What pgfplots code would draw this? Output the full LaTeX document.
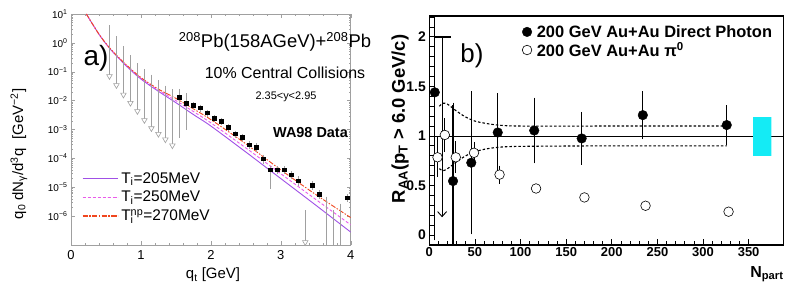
\documentclass[border=0pt]{standalone}
\usepackage{pgfplots}
\usepackage{pgfplotstable}
\pgfplotsset{compat=1.18}
\usepackage{fontspec}
\setmainfont{Liberation Sans}
\usetikzlibrary{arrows.meta}
\definecolor{tviolet}{RGB}{160,80,230}
\definecolor{tmag}{RGB}{235,90,235}
\definecolor{tred}{RGB}{240,70,30}
\definecolor{cbox}{RGB}{20,235,245}
\definecolor{egray}{RGB}{160,160,160}

\pgfplotstableread{
q y
1.55 1.3e-2
1.65 8.3e-3
1.75 6.9e-3
1.85 5.6e-3
1.95 3.8e-3
2.05 2.5e-3
2.15 1.95e-3
2.25 1.2e-3
2.35 7.1e-4
2.45 5.4e-4
2.55 3.0e-4
2.65 2.45e-4
2.75 9.8e-5
2.85 4.0e-5
2.95 4.0e-5
3.05 4.0e-5
3.15 2.7e-5
3.25 1.7e-5
3.45 1.2e-5
3.55 5.7e-6
3.95 4.4e-6
}\wasq

\pgfplotstableread{
q y
0.55 0.07
0.65 0.034
0.75 0.016
0.85 0.0083
0.95 0.0043
1.05 0.0021
1.15 0.0011
1.25 0.0007
1.35 0.00045
1.45 0.00028
3.35 1.25e-7
}\walim

\pgfplotstableread{
n y e
6 1.44 1.47
26 0.545 0.77
46 0.73 0.70
75 1.035 0.375
115 1.055 0.31
167 0.975 0.245
234 1.21 0.22
326 1.11 0.177
}\gam

\pgfplotstableread{
n y e
9 0.785 0.18
17 1.01 0.15
29 0.785 0.14
49 0.83 0.09
77 0.61 0.07
117 0.47 0
170 0.38 0
237 0.296 0
328 0.236 0
}\pizero

\begin{document}
\begin{tikzpicture}[x=1bp,y=1bp]
\useasboundingbox (0,0) rectangle (789,289);
% ---------------- left panel ----------------
\begin{axis}[at={(71bp,44bp)}, anchor=south west, scale only axis,
  width=279.7bp, height=231bp,
  xmin=0, xmax=4, ymode=log, ymin=1e-7, ymax=1e1,
  axis line style={egray, line width=0.5bp},
  tick style={egray, line width=0.4bp},
  tick align=inside, major tick length=4bp, minor tick length=2bp,
  xtick={0,1,2,3,4}, minor x tick num=4,
  ytick={1e-6,1e-5,1e-4,1e-3,1e-2,1e-1,1,10},
  yticklabels={10\textsuperscript{−6},10\textsuperscript{−5},10\textsuperscript{−4},10\textsuperscript{−3},10\textsuperscript{−2},10\textsuperscript{−1},10\textsuperscript{0},10\textsuperscript{1}},
  xticklabel style={font=\fontsize{13}{13}\selectfont, yshift=-2bp},
  yticklabel style={font=\fontsize{10}{10}\selectfont},
  /pgf/number format/assume math mode=true,
  legend style={at={(0.039,0.318)}, anchor=north west, draw=none, fill=none,
    font=\fontsize{15.5}{15.5}\selectfont, row sep=5.5bp, inner sep=0pt,
    nodes={inner ysep=0.5bp, inner xsep=3bp}},
  legend cell align=left,
  legend image code/.code={\draw[mark repeat=2,mark phase=2,#1,line width=1.2bp] plot coordinates {(0bp,0bp)(17.5bp,0bp)(35bp,0bp)};},
  clip=true]
\addplot[color=tviolet, line width=0.9bp, smooth] coordinates {
(0.22,10)(0.3,4.8)(0.4,2.0)(0.5,0.93)(0.6,0.48)(0.8,0.151)(1.0,0.056)(1.25,0.021)(1.5,0.0085)(1.75,0.0033)(2.0,0.00132)(2.5,1.66e-4)(3.0,2.0e-5)(3.5,2.4e-6)(4.0,2.8e-7)};
\addlegendentry{T\textsubscript{i}=205MeV}
\addplot[color=tmag, line width=0.9bp, dash pattern=on 3bp off 2bp, smooth] coordinates {
(0.22,10)(0.3,4.8)(0.4,2.0)(0.5,0.94)(0.6,0.49)(0.8,0.16)(1.0,0.060)(1.25,0.023)(1.5,0.010)(1.75,0.0042)(2.0,0.0017)(2.5,2.3e-4)(3.0,2.95e-5)(3.5,3.8e-6)(4.0,5.0e-7)};
\addlegendentry{T\textsubscript{i}=250MeV}
\addplot[color=tred, line width=0.9bp, dash pattern=on 5bp off 1.5bp on 1.5bp off 1.5bp, smooth] coordinates {
(0.22,10)(0.3,4.8)(0.4,2.0)(0.5,0.95)(0.6,0.50)(0.8,0.166)(1.0,0.063)(1.25,0.025)(1.5,0.012)(1.75,0.0052)(2.0,0.0022)(2.5,3.2e-4)(3.0,4.0e-5)(3.5,5.6e-6)(4.0,8.9e-7)};
\addlegendentry{T\rlap{\textsubscript{i}}\textsuperscript{np}=270MeV}
% gray error / upper-limit lines
\addplot[egray, line width=0.6bp, unbounded coords=jump, forget plot] coordinates {
(0.55,4.0)(0.55,0.07)(0.55,nan)
(0.65,1.7)(0.65,0.034)(0.65,nan)
(0.75,0.75)(0.75,0.016)(0.75,nan)
(0.85,0.38)(0.85,0.0083)(0.85,nan)
(0.95,0.2)(0.95,0.0043)(0.95,nan)
(1.05,0.12)(1.05,0.0021)(1.05,nan)
(1.15,0.08)(1.15,0.0011)(1.15,nan)
(1.25,0.05)(1.25,0.0007)(1.25,nan)
(1.35,0.033)(1.35,0.00045)(1.35,nan)
(1.45,0.025)(1.45,0.00028)(1.45,nan)
(1.55,0.025)(1.55,5e-4)(1.55,nan)
(1.65,0.018)(1.65,1.0e-3)(1.65,nan)
(1.75,9.0e-3)(1.75,5.0e-3)(1.75,nan)
(1.85,7.2e-3)(1.85,4.0e-3)(1.85,nan)
(1.95,4.9e-3)(1.95,2.8e-3)(1.95,nan)
(2.05,3.2e-3)(2.05,1.85e-3)(2.05,nan)
(2.15,2.5e-3)(2.15,1.45e-3)(2.15,nan)
(2.25,1.55e-3)(2.25,8.8e-4)(2.25,nan)
(2.35,9.2e-4)(2.35,5.2e-4)(2.35,nan)
(2.45,7.0e-4)(2.45,3.9e-4)(2.45,nan)
(2.55,4.0e-4)(2.55,2.1e-4)(2.55,nan)
(2.65,3.3e-4)(2.65,1.7e-4)(2.65,nan)
(2.75,1.35e-4)(2.75,6.5e-5)(2.75,nan)
(2.85,5.5e-5)(2.85,9e-6)(2.85,nan)
(2.95,5.3e-5)(2.95,2.9e-5)(2.95,nan)
(3.05,5.3e-5)(3.05,2.9e-5)(3.05,nan)
(3.15,3.7e-5)(3.15,1.9e-5)(3.15,nan)
(3.25,2.4e-5)(3.25,1.1e-5)(3.25,nan)
(3.35,1.6e-6)(3.35,1.25e-7)(3.35,nan)
(3.45,1.7e-5)(3.45,8e-6)(3.45,nan)
(3.55,8e-6)(3.55,3.8e-6)(3.55,nan)
(3.65,4.7e-6)(3.65,1e-8)(3.65,nan)
(3.75,1.6e-6)(3.75,1e-8)(3.75,nan)
(3.85,2.7e-6)(3.85,1e-8)(3.85,nan)
(3.95,5.8e-6)(3.95,3.2e-6)};
\addplot[only marks, mark=triangle*, mark size=3.2bp, forget plot,
  mark options={rotate=180, draw=egray, fill=white, line width=0.6bp}] table[x=q,y=y] {\walim};
\addplot[only marks, mark=square*, mark size=1.8bp, black, forget plot] table[x=q,y=y] {\wasq};
\end{axis}
% ---------------- right panel ----------------
\begin{axis}[at={(429.3bp,44bp)}, anchor=south west, scale only axis,
  width=354bp, height=229bp,
  xmin=0, xmax=388, ymin=-0.1, ymax=2.21,
  axis line style={black, line width=1.4bp},
  tick style={black, line width=0.8bp},
  tick align=inside, major tick length=6bp, minor tick length=4.5bp,
  xtick={0,50,...,350}, minor x tick num=4,
  ytick={0,0.5,1,1.5,2},
  minor ytick={-0.1,0.1,0.2,0.3,0.4,0.6,0.7,0.8,0.9,1.1,1.2,1.3,1.4,1.6,1.7,1.8,1.9,2.1,2.2},
  xtick pos=left, ytick pos=left,
  xticklabel style={font=\bfseries\fontsize{13}{13}\selectfont, yshift=1bp},
  yticklabel style={font=\bfseries\fontsize{14}{14}\selectfont},
  /pgf/number format/assume math mode=true,
  legend style={at={(0.262,0.965)}, anchor=north west, draw=none, fill=none,
    font=\bfseries\fontsize{16.5}{17}\selectfont, row sep=1.5bp, inner sep=0pt,
    nodes={inner ysep=1bp, inner xsep=5bp}},
  legend cell align=left,
  legend image code/.code={\draw[mark repeat=2,mark phase=2,#1] plot coordinates {(0bp,0bp)(6bp,0bp)(12bp,0bp)};},
  clip=true]
\addplot[black, line width=0.7bp, forget plot] coordinates {(0,1)(388,1)};
\addplot[black, line width=1.1bp, dash pattern=on 2.5bp off 2bp, smooth, forget plot] coordinates {
(11,1.30)(15,1.33)(20,1.32)(30,1.25)(40,1.19)(50,1.15)(60,1.13)(75,1.11)(100,1.10)(200,1.10)(326,1.10)};
\addplot[black, line width=1.1bp, dash pattern=on 2.5bp off 2bp, smooth, forget plot] coordinates {
(11,0.67)(15,0.65)(20,0.67)(30,0.74)(40,0.80)(50,0.84)(60,0.865)(75,0.885)(100,0.895)(200,0.90)(326,0.90)};
\addplot[fill=cbox, draw=none, forget plot] coordinates {(355,0.8)(375,0.8)(375,1.19)(355,1.19)(355,0.8)};
% upper limit
\addplot[black, line width=1.8bp, forget plot] coordinates {(6,2)(24,2)};
\addplot[black, line width=0.9bp, -{Straight Barb[length=5bp,width=9bp]}, forget plot] coordinates {(14,2)(14,0.18)};
\addplot[only marks, mark=*, mark size=4.8bp, black,
  error bars/.cd, y dir=both, y explicit, error mark=-,
  error bar style={line width=1.1bp}, error mark options={line width=1bp, mark size=2.2bp}]
  table[x=n,y=y,y error=e] {\gam};
\addlegendentry{200 GeV Au+Au Direct Photon}
\addplot[only marks, mark=*, mark size=4.8bp, black, mark options={fill=white, line width=0.6bp},
  error bars/.cd, y dir=both, y explicit, error mark=-,
  error bar style={line width=0.9bp}, error mark options={line width=0.8bp, mark size=2bp}]
  table[x=n,y=y,y error=e] {\pizero};
\addlegendentry{200 GeV Au+Au π\textsuperscript{0}}
\end{axis}
% ---------------- text ----------------
\node[font=\fontsize{18.5}{18.5}\selectfont] at (275,247) {\textsuperscript{208}Pb(158AGeV)+\textsuperscript{208}Pb};
\node[font=\fontsize{16}{16}\selectfont] at (285,216) {10\% Central Collisions};
\node[font=\fontsize{11}{11}\selectfont] at (286,192) {2.35<y<2.95};
\node[font=\bfseries\fontsize{14.5}{14.5}\selectfont] at (310.5,156) {WA98 Data};
\node[font=\fontsize{28}{28}\selectfont] at (96,231) {a)};
\node[font=\fontsize{15}{15}\selectfont] at (213,14) {q\textsubscript{t} [GeV]};
\node[font=\fontsize{15}{15}\selectfont, rotate=90] at (19,135) {q\textsubscript{0} dN\textsubscript{γ}/d\textsuperscript{3}q\,\, [GeV\textsuperscript{−2}]};
\node[font=\fontsize{26}{26}\selectfont] at (472,233) {b)};
\node[font=\bfseries\fontsize{18.5}{18.5}\selectfont, rotate=90] at (400,170) {R\textsubscript{AA}(p\textsubscript{T} > 6.0 GeV/c)};
\node[font=\bfseries\fontsize{16}{16}\selectfont, anchor=east] at (787,15) {N\textsubscript{part}};
\end{tikzpicture}
\end{document}
